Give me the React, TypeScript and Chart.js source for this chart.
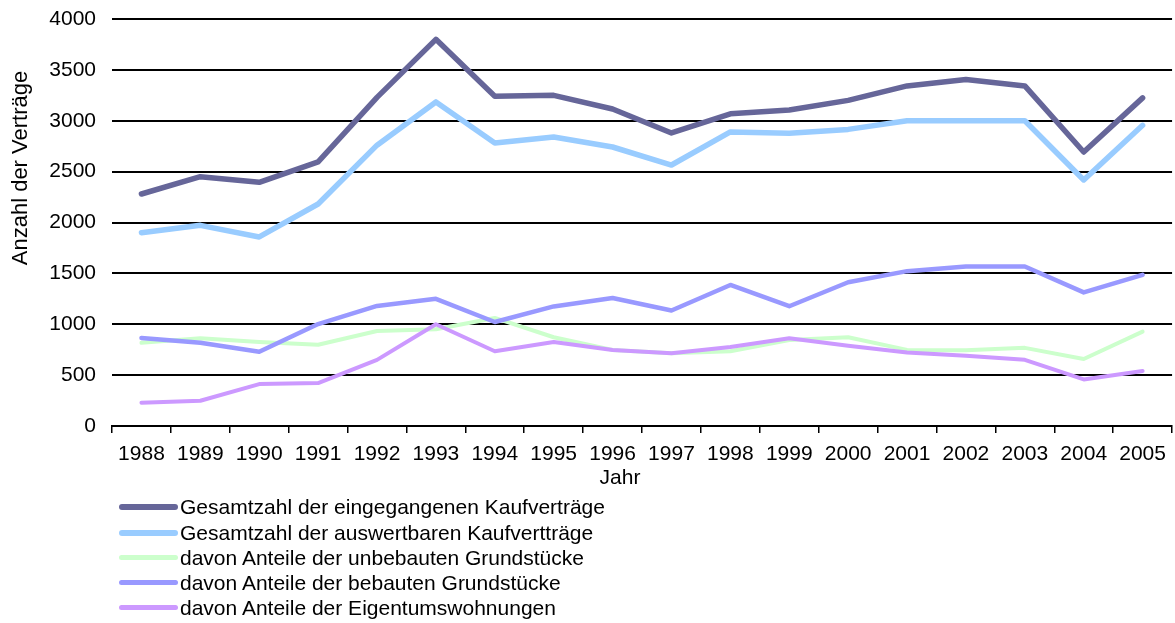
import React, { useEffect, useRef } from "react";
import { Chart, registerables } from "chart.js";

Chart.register(...registerables);

const years = ["1988", "1989", "1990", "1991", "1992", "1993", "1994", "1995", "1996", "1997", "1998", "1999", "2000", "2001", "2002", "2003", "2004", "2005"];

const gesamt = [2280, 2450, 2395, 2595, 3230, 3800, 3240, 3250, 3115, 2880, 3068, 3105, 3200, 3342, 3405, 3342, 2693, 3225];
const auswertbar = [1900, 1972, 1858, 2182, 2760, 3185, 2781, 2840, 2742, 2565, 2890, 2878, 2915, 3000, 3000, 3000, 2418, 2955];
const unbebaut = [818, 862, 826, 798, 934, 950, 1062, 872, 748, 716, 735, 845, 872, 748, 745, 768, 658, 928];
const bebaut = [866, 818, 730, 1002, 1180, 1250, 1022, 1175, 1258, 1135, 1386, 1177, 1413, 1522, 1568, 1568, 1313, 1486];
const eigentum = [228, 248, 412, 422, 650, 1000, 735, 825, 746, 716, 776, 862, 788, 722, 690, 650, 458, 540];

const seriesNames = [
  "Gesamtzahl der eingegangenen Kaufverträge",
  "Gesamtzahl der auswertbaren Kaufvertträge",
  "davon Anteile der unbebauten Grundstücke",
  "davon Anteile der bebauten Grundstücke",
  "davon Anteile der Eigentumswohnungen",
];
const seriesData = [gesamt, auswertbar, unbebaut, bebaut, eigentum];
const seriesColors = ["#666699", "#99CCFF", "#CCFFCC", "#9999FF", "#CC99FF"];
const seriesWidths = [5.5, 5.5, 4, 4.5, 4];

const yTitle = "Anzahl der Verträge";
const xTitle = "Jahr";

const FONT = "'Liberation Sans', Arial, Helvetica, sans-serif";

export default function App() {
  const canvasRef = useRef<HTMLCanvasElement | null>(null);

  useEffect(() => {
    const canvas = canvasRef.current;
    if (!canvas) return;

    const titlePlugin = {
      id: "axisTitles",
      afterDraw(chart: any) {
        const ctx = chart.ctx;
        ctx.save();
        ctx.fillStyle = "#000";
        ctx.font = `22px ${FONT}`;
        ctx.textAlign = "center";
        ctx.textBaseline = "middle";
        ctx.translate(21, 168);
        ctx.rotate(-Math.PI / 2);
        ctx.fillText(yTitle, 0, 0);
        ctx.restore();
        ctx.save();
        ctx.fillStyle = "#000";
        ctx.font = `21px ${FONT}`;
        ctx.textAlign = "center";
        ctx.textBaseline = "middle";
        ctx.fillText(xTitle, 620, 478);
        ctx.restore();
      },
    };

    const chart = new Chart(canvas, {
      type: "line",
      data: {
        labels: years,
        datasets: seriesData.map((d, i) => ({
          label: seriesNames[i],
          data: d,
          borderColor: seriesColors[i],
          backgroundColor: seriesColors[i],
          borderWidth: seriesWidths[i],
          pointRadius: 0,
          tension: 0,
          borderCapStyle: "round" as const,
          borderJoinStyle: "round" as const,
          order: 5 - i,
        })),
      },
      options: {
        responsive: false,
        animation: false,
        layout: { padding: { top: 19, right: 1, left: 0, bottom: 0 } },
        plugins: {
          legend: { display: false },
          tooltip: { enabled: false },
        },
        scales: {
          x: {
            offset: true,
            grid: {
              offset: true,
              drawOnChartArea: false,
              drawTicks: true,
              tickLength: 7,
              color: "#000",
              lineWidth: 1.5,
            },
            border: { display: true, color: "#000", width: 2 },
            ticks: {
              color: "#000",
              font: { family: FONT, size: 21 },
              padding: 9,
              maxRotation: 0,
              autoSkip: false,
            },
            afterFit(scale: any) {
              scale.height = 74;
            },
          },
          y: {
            min: 0,
            max: 4000,
            ticks: {
              stepSize: 500,
              color: "#000",
              font: { family: FONT, size: 21 },
              padding: 16,
              callback: (v: any) => String(v),
            },
            grid: {
              color: "#000",
              lineWidth: 2,
              drawTicks: false,
            },
            border: { display: false },
            afterFit(scale: any) {
              scale.width = 112;
              scale.paddingTop = 0;
              scale.paddingBottom = 0;
            },
          },
        },
      },
      plugins: [titlePlugin],
    });

    return () => {
      chart.destroy();
    };
  }, []);

  const rowCenters = [507, 533, 557.5, 582.5, 607.5];

  return (
    <div
      style={{
        position: "fixed",
        left: 0,
        top: 0,
        width: 1175,
        height: 623,
        background: "#fff",
        fontFamily: FONT,
      }}
    >
      <canvas
        ref={canvasRef}
        width={1175}
        height={500}
        style={{ position: "absolute", left: 0, top: 0, width: 1175, height: 500 }}
      />
      {seriesNames.map((name, i) => (
        <div
          key={name}
          style={{
            position: "absolute",
            left: 119,
            top: rowCenters[i] - 12,
            height: 24,
            display: "flex",
            alignItems: "center",
            whiteSpace: "nowrap",
          }}
        >
          <div
            style={{
              width: 59,
              height: i < 2 ? 6 : 4.5,
              borderRadius: 3,
              background: seriesColors[i],
              marginRight: 2,
            }}
          />
          <span style={{ fontSize: 21, color: "#000", lineHeight: "24px" }}>{name}</span>
        </div>
      ))}
    </div>
  );
}
